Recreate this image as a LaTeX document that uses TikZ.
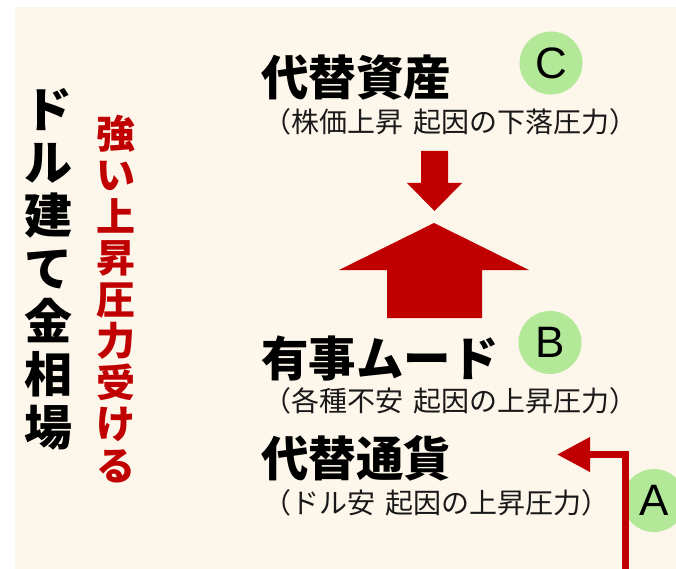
\documentclass[tikz,border=0pt]{standalone}
\usepackage{fontspec}
\usetikzlibrary{arrows.meta}
\newfontfamily\jp{Noto Sans CJK JP}
\newfontfamily\lat{Liberation Sans}
\definecolor{cream}{HTML}{FDF6EB}
\definecolor{darkred}{HTML}{C00000}
\definecolor{lgreen}{HTML}{B3E898}
\tikzset{
  head/.style={anchor=base west, inner sep=0pt, font=\jp\bfseries\fontsize{47.5}{50}\selectfont},
  sub/.style={anchor=base west, inner sep=0pt, font=\jp\fontsize{28}{30}\selectfont, text=black!90},
  badge/.style={circle, fill=lgreen, minimum size=63pt, inner sep=0pt, font=\lat\fontsize{44}{48}\selectfont},
  vtext/.style={align=center, inner sep=0pt},
  redshape/.style={fill=darkred, draw=none}
}
\newcommand{\gap}{\hspace{0.38em}}
\begin{document}
\begin{tikzpicture}[x=1pt,y=-1pt]
\useasboundingbox (0,0) rectangle (676,569);
\clip (0,0) rectangle (676,569);
\fill[cream] (15,7) rectangle (676,569);

% vertical titles
\node[vtext, font=\jp\bfseries\fontsize{48}{53}\selectfont] (title) at (48,269) {ド\\ル\\建\\て\\金\\相\\場};
\node[vtext, text=darkred, font=\jp\bfseries\fontsize{39}{41.5}\selectfont] (pressure) at (116,299) {強\\い\\上\\昇\\圧\\力\\受\\け\\る};

% C
\node[head] (alt) at (261,96) {代替資産};
\node[sub] (altsub) at (263,133) {（株価上昇\gap 起因の下落圧力）};
\node[badge] (bc) at (551,63) {C};

% arrows
\fill[redshape] (421,151) -- (448,151) -- (448,183) -- (462,183) -- (434.5,211) -- (407,183) -- (421,183) -- cycle;
\fill[redshape] (434,223) -- (529,270) -- (482,270) -- (482,318) -- (387,318) -- (387,270) -- (339,270) -- cycle;

% B
\node[head] (mood) at (261,376) {有事ムード};
\node[sub] (moodsub) at (263,411) {（各種不安\gap 起因の上昇圧力）};
\node[badge] (bb) at (550,342.5) {B};

% A
\node[head] (cur) at (261,476) {代替通貨};
\node[sub] (cursub) at (263,513) {（ドル安\gap 起因の上昇圧力）};
\node[badge] (ba) at (654,500.5) {A};
\coordinate (lstart) at (625.5,575);
\coordinate (lcorner) at (625.5,454.5);
\coordinate (lend) at (557,454.5);
\draw[darkred, line width=7pt, -{Triangle[length=33pt,width=33pt]}] (lstart) -- (lcorner) -- (lend);
\end{tikzpicture}
\end{document}
